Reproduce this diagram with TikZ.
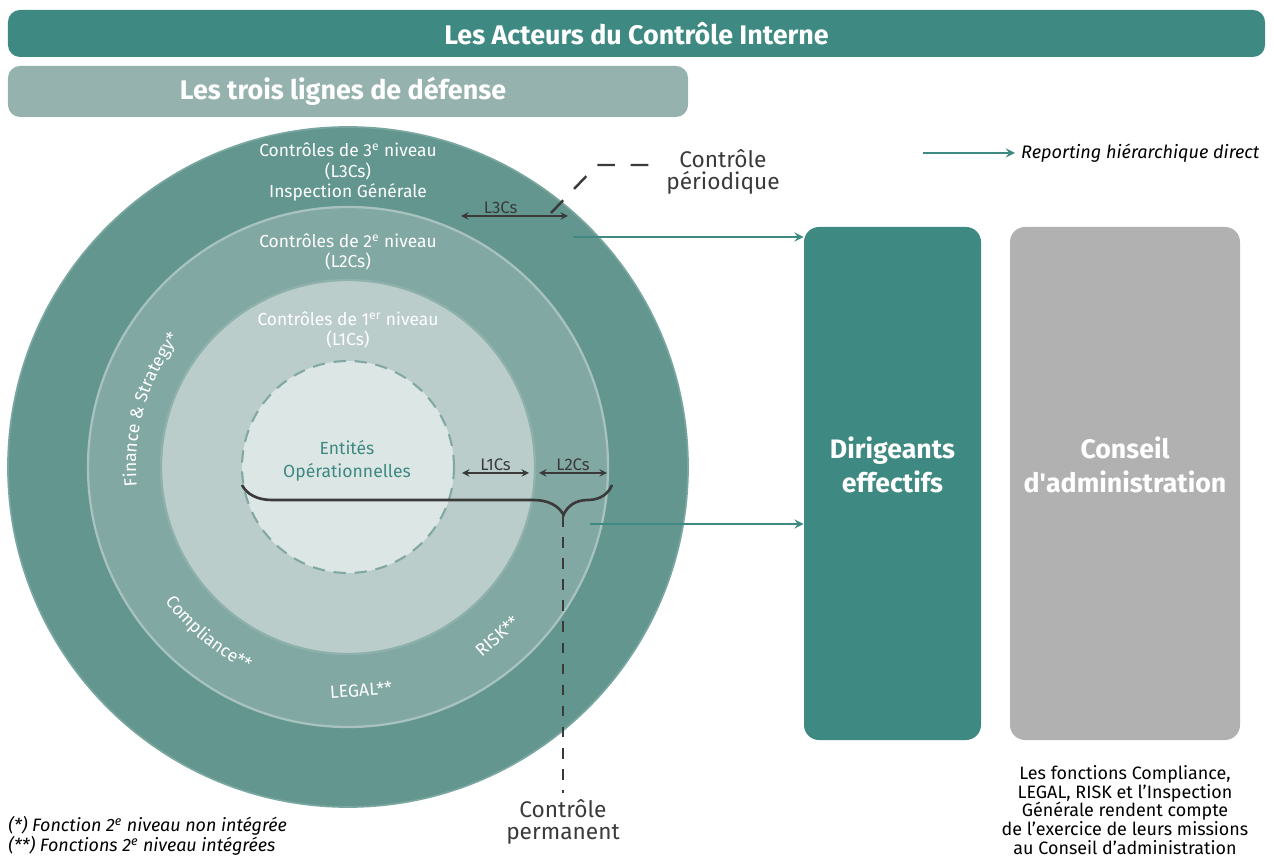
\documentclass[tikz,border=0pt]{standalone}
\usepackage{fontspec}
\setmainfont{Fira Sans}
\usetikzlibrary{positioning,decorations.text,decorations.pathreplacing}
\definecolor{vert}{HTML}{3E8981}
\definecolor{vertclair}{HTML}{95B2AE}
\definecolor{anneau3}{HTML}{62968F}
\definecolor{anneau2}{HTML}{82A8A3}
\definecolor{anneau1}{HTML}{BBCDCB}
\definecolor{coeur}{HTML}{DCE6E5}
\definecolor{gris}{HTML}{B1B1B1}
\definecolor{trait}{HTML}{3A3A3A}

\begin{document}
\begin{tikzpicture}[x=0.2mm,y=-0.2mm,
  bandeau/.style={rounded corners=2.4mm,inner sep=0pt,text=white,font=\bfseries\fontsize{15.3}{18}\selectfont},
  anneau/.style={text=white,align=center,font=\fontsize{9.9}{11.6}\selectfont},
  fonction/.style={text=white,inner sep=1pt,font=\fontsize{10}{11}\selectfont},
  cote/.style={<->,>=stealth,draw=trait,line width=0.9pt},
  cotetxt/.style={text=trait,font=\fontsize{9.5}{11}\selectfont,inner sep=1pt},
  pointille/.style={draw=trait,line width=1.4pt,dash pattern=on 6pt off 6pt},
  gros/.style={text=trait,align=center,font=\fontsize{12.9}{13}\selectfont},
  remontee/.style={->,>=stealth,draw=vert,line width=1.3pt},
  pilier/.style={rounded corners=3mm,minimum width=#1,minimum height=102.6mm},
  piliertxt/.style={text=white,align=center,font=\bfseries\fontsize{15.2}{19.5}\selectfont},
  petit/.style={align=center,font=\fontsize{10.2}{10.7}\selectfont},
  arctxt/.style={decorate,decoration={text along path,text align=center,text color=white,
    text={|\fontsize{10}{11}\selectfont|#1}}}]
\useasboundingbox (0,0) rectangle (1274,859);

% bandeaux
\node[bandeau,fill=vert,minimum width=251.4mm,minimum height=9.4mm] (acteurs) at (636.5,33.5) {Les Acteurs du Contrôle Interne};
\node[bandeau,fill=vertclair,minimum width=136mm,minimum height=10.2mm] (lignes) at (348,91.5) {\hspace*{-2mm}Les trois lignes de défense};

% les cercles
\coordinate (o) at (348,467);
\filldraw[fill=anneau3,draw=white!15!anneau3,line width=1pt] (o) circle (68mm);
\filldraw[fill=anneau2,draw=white!30!anneau2,line width=1.3pt] (o) circle (52mm);
\filldraw[fill=anneau1,draw=white!10!anneau2,line width=1.3pt] (o) circle (37.4mm);
\filldraw[fill=coeur,draw=anneau2,line width=1.2pt,dash pattern=on 7pt off 5pt] (o) circle (21.2mm);

\node[anneau] (niv3) at (348,172) {Contrôles de 3\textsuperscript{e} niveau\\(L3Cs)\\Inspection Générale};
\node[anneau] (niv2) at (348,252) {Contrôles de 2\textsuperscript{e} niveau\\(L2Cs)};
\node[anneau] (niv1) at (348,330) {Contrôles de 1\textsuperscript{er} niveau\\(L1Cs)};
\node[anneau,text=vert,font=\fontsize{10}{13}\selectfont] (entites) at (347,461) {Entités\\Opérationnelles};

% fonctions du 2e niveau
\path[arctxt={Finance {\&} Strategy*}] (o) ++(200:42.4mm) arc[start angle=200,end angle=128,radius=42.4mm];
\path[arctxt={Compliance**}] (o) ++(205:45.4mm) arc[start angle=205,end angle=255,radius=45.4mm];
\node[fonction,rotate=3.5] (legal) at (361,690) {LEGAL**};
\node[fonction,rotate=41] (risk) at (497,636) {RISK**};

% cotes
\coordinate (l3g) at (461,216);
\coordinate (l3d) at (568,216);
\coordinate (l1g) at (462,473);
\coordinate (l1d) at (529,473);
\coordinate (l2g) at (539,473);
\coordinate (l2d) at (607,473);
\draw[cote] (l3g) -- node[cotetxt,above,pos=0.37] (l3t) {L3Cs} (l3d);
\draw[cote] (l1g) -- node[cotetxt,above] (l1t) {L1Cs} (l1d);
\draw[cote] (l2g) -- node[cotetxt,above] (l2t) {L2Cs} (l2d);

% controle permanent
\coordinate (bg) at (242,485);
\coordinate (bd) at (612,485);
\draw[trait,line width=1.5pt,decorate,decoration={brace,mirror,amplitude=6mm,aspect=0.869}] (bg) -- (bd);
\coordinate (pointe) at (563,516);
\node[gros] (permanent) at (563,822) {Contrôle\\permanent};
\draw[pointille] (pointe) -- (permanent.north);

% controle periodique
\coordinate (per0) at (551,213);
\coordinate (coude) at (597,165);
\node[gros] (periodique) at (723,172) {Contrôle\\périodique};
\draw[pointille,dash pattern=on 10pt off 9pt] (per0) -- (coude) -- (coude -| periodique.west);

% les deux piliers
\node[pilier=35.4mm,fill=vert] (dirigeants) at (892.5,483.5) {};
\node[piliertxt] (dirtxt) at (892.5,465) {Dirigeants\\effectifs};
\node[pilier=46mm,fill=gris] (conseil) at (1125,483.5) {};
\node[piliertxt] (constxt) at (1125,465) {Conseil\\d\textquotesingle administration};

\coordinate (r3) at (573,237);
\coordinate (r2) at (590,524);
\draw[remontee] (r3) -- (r3 -| dirigeants.west);
\draw[remontee] (r2) -- (r2 -| dirigeants.west);

% legende
\coordinate (lg0) at (923,153);
\node[anchor=west,font=\itshape\fontsize{10.3}{12}\selectfont] (legende) at (1015,153) {Reporting hiérarchique direct};
\draw[remontee] (lg0) -- (legende.west);

\node[petit] (missions) at (1125,810) {Les fonctions Compliance,\\LEGAL, RISK et l’Inspection\\Générale rendent compte\\de l’exercice de leurs missions\\au Conseil d’administration};
\node[anchor=west,align=left,inner sep=0pt,font=\itshape\fontsize{10.2}{11.4}\selectfont] (renvois) at (8,836) {(*) Fonction 2\textsuperscript{e} niveau non intégrée\\(**) Fonctions 2\textsuperscript{e} niveau intégrées};
\end{tikzpicture}
\end{document}
